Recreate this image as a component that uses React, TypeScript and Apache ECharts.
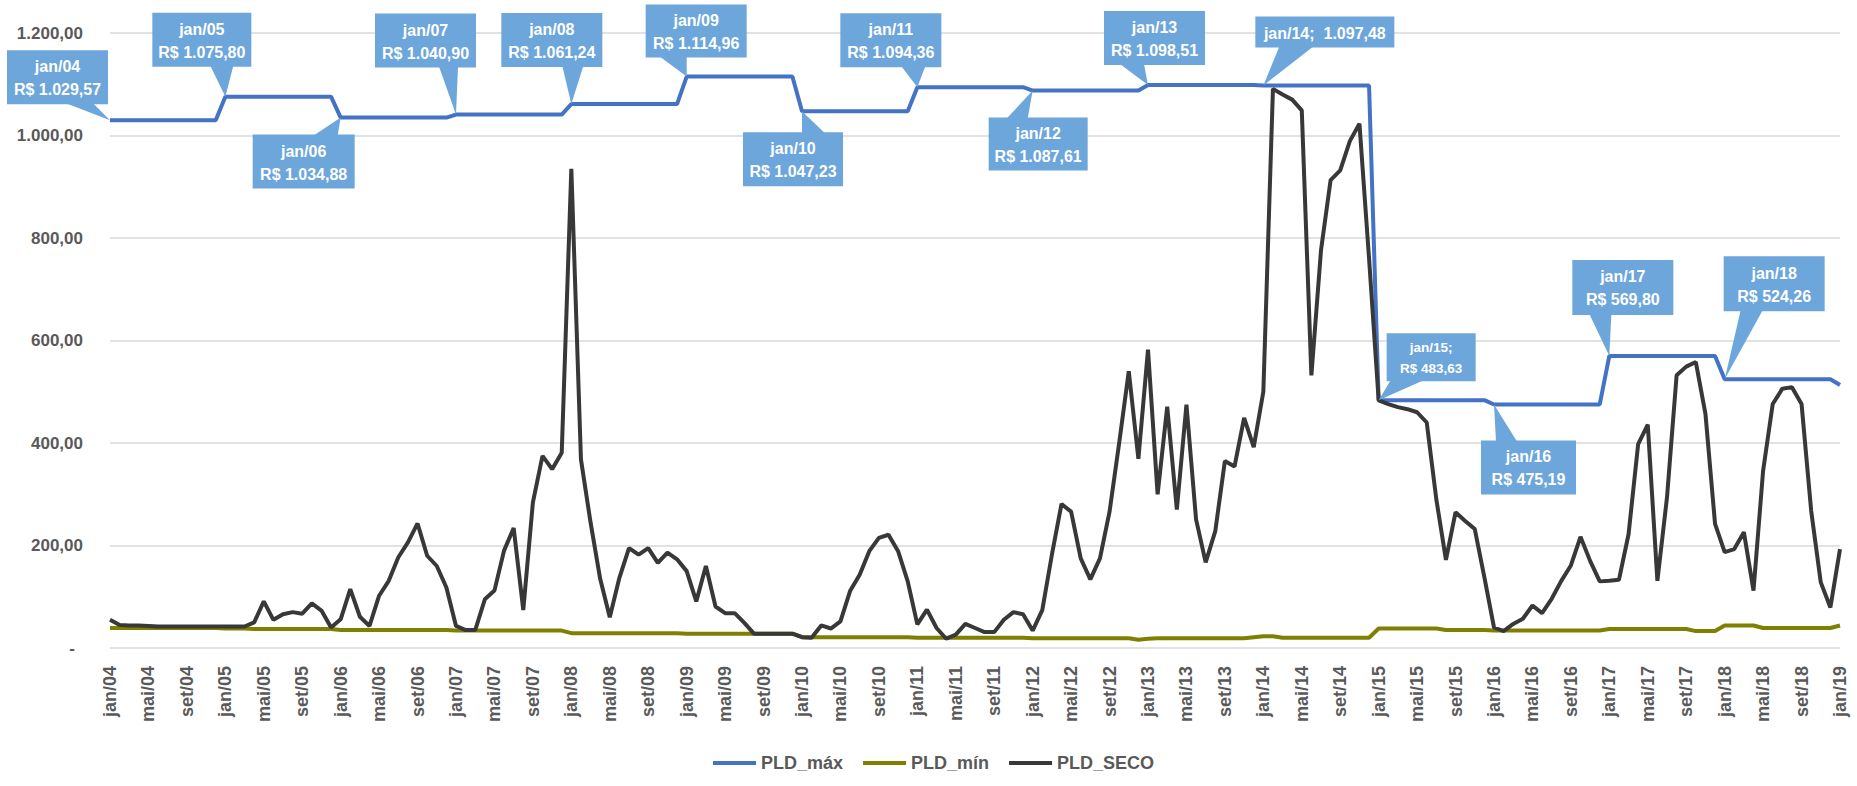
import React, { useEffect, useRef } from "react";
import * as echarts from "echarts";

// ---------- DATA ----------
const monthNames = ["jan", "fev", "mar", "abr", "mai", "jun", "jul", "ago", "set", "out", "nov", "dez"];
const firstYear = 2004;
const monthCount = 181; // jan/04 .. jan/19
const categories: string[] = Array.from({ length: monthCount }, (_, i) => {
  const y = (firstYear + Math.floor(i / 12)) % 100;
  return `${monthNames[i % 12]}/${String(y).padStart(2, "0")}`;
});

// PLD_máx: yearly ceiling (constant through each year), 2004..2018, plus jan/19
const pldMaxYearly = [1029.57, 1075.8, 1034.88, 1040.9, 1061.24, 1114.96, 1047.23, 1094.36, 1087.61, 1098.51, 1097.48, 483.63, 475.19, 569.8, 524.26];
const pldMaxJan19 = 513.0;
const pldMax: number[] = categories.map((_, i) => (i < 180 ? pldMaxYearly[Math.floor(i / 12)] : pldMaxJan19));

// PLD_mín (monthly)
const pldMin = [
  39, 39, 39, 39, 39, 39, 39, 39, 39, 39, 39, 39,
  38, 38, 38, 37, 37, 37, 37, 37, 37, 37, 37, 37,
  35, 35, 35, 35, 35, 35, 35, 35, 35, 35, 35, 35,
  34, 34, 34, 34, 34, 34, 34, 34, 34, 34, 34, 34,
  29, 29, 29, 29, 29, 29, 29, 29, 29, 29, 29, 29,
  28, 28, 28, 28, 28, 28, 28, 28, 28, 28, 28, 28,
  21, 21, 21, 21, 21, 21, 21, 21, 21, 21, 21, 21,
  20, 20, 20, 20, 20, 20, 20, 20, 20, 20, 20, 20,
  19, 19, 19, 19, 19, 19, 19, 19, 19, 19, 19, 16,
  18, 19, 19, 19, 19, 19, 19, 19, 19, 19, 19, 21,
  23, 23, 20, 20, 20, 20, 20, 20, 20, 20, 20, 20,
  38, 38, 38, 38, 38, 38, 38, 35, 35, 35, 35, 35,
  34, 34, 34, 34, 34, 34, 34, 34, 34, 34, 34, 34,
  37, 37, 37, 37, 37, 37, 37, 37, 37, 33, 33, 33,
  44, 44, 44, 44, 39, 39, 39, 39, 39, 39, 39, 39,
  44,
];

// PLD_SECO (monthly)
const pldSeco = [
  55, 45, 44, 44, 43, 42, 42, 42, 42, 42, 42, 42,
  42, 42, 42, 50, 91, 55, 66, 70, 67, 87, 73, 40,
  56, 115, 61, 43, 102, 131, 177, 206, 243, 180, 160, 118,
  43, 35, 35, 95, 112, 190, 234, 74, 284, 375, 349, 381,
  935, 368, 245, 135, 60, 137, 195, 182, 195, 166, 186, 173,
  150, 91, 160, 81, 68, 68, 49, 28, 28, 28, 28, 28,
  21, 20, 44, 38, 52, 111, 143, 189, 215, 221, 189, 130,
  46, 75, 39, 18, 26, 47, 39, 31, 31, 55, 70, 66,
  34, 74, 182, 281, 266, 175, 134, 175, 266, 400, 540, 369,
  582, 300, 471, 270, 475, 251, 167, 228, 365, 354, 449, 392,
  500, 1091, 1080, 1070, 1049, 532, 776, 913, 932, 989, 1023, 760,
  483, 476, 470, 466, 460, 440, 290, 172, 265, 248, 232, 138,
  40, 33, 47, 57, 83, 68, 96, 131, 161, 217, 170, 130,
  131, 133, 222, 398, 436, 131, 294, 532, 549, 558, 457, 242,
  187, 193, 226, 112, 346, 476, 506, 509, 476, 268, 128, 79,
  193,
];

const seriesNames = ["PLD_máx", "PLD_mín", "PLD_SECO"];
const yTicks = { min: 0, max: 1200, interval: 200 };

// Callout labels (text) attached to PLD_máx points
const calloutIdx = [0, 12, 24, 36, 48, 60, 72, 84, 96, 108, 120, 132, 144, 156, 168];
const calloutText = [
  ["jan/04", "R$ 1.029,57"],
  ["jan/05", "R$ 1.075,80"],
  ["jan/06", "R$ 1.034,88"],
  ["jan/07", "R$ 1.040,90"],
  ["jan/08", "R$ 1.061,24"],
  ["jan/09", "R$ 1.114,96"],
  ["jan/10", "R$ 1.047,23"],
  ["jan/11", "R$ 1.094,36"],
  ["jan/12", "R$ 1.087,61"],
  ["jan/13", "R$ 1.098,51"],
  ["jan/14;  1.097,48"],
  ["jan/15;", "R$ 483,63"],
  ["jan/16", "R$ 475,19"],
  ["jan/17", "R$ 569,80"],
  ["jan/18", "R$ 524,26"],
];

// ---------- LAYOUT / STYLE (pixel offsets of callout boxes relative to their point) ----------
type Box = { left: number; top: number; w: number; h: number; b1: number; b2: number; baseTop: boolean; fs?: number };
const boxes: Box[] = [
  { left: -103, top: -70, w: 101, h: 54, b1: -44, b2: -17, baseTop: false },
  { left: -73, top: -84, w: 99, h: 54, b1: -15, b2: 8, baseTop: false },
  { left: -88, top: 17, w: 102, h: 54, b1: -27, b2: -3, baseTop: true },
  { left: -81, top: -101, w: 101, h: 54, b1: -17, b2: 2, baseTop: false },
  { left: -70, top: -91, w: 101, h: 54, b1: -9, b2: 12, baseTop: false },
  { left: -41, top: -72, w: 101, h: 53, b1: -27, b2: 0, baseTop: false },
  { left: -59, top: 21, w: 100, h: 54, b1: 0, b2: 23, baseTop: true },
  { left: -77, top: -74, w: 101, h: 54, b1: -16, b2: 8, baseTop: false },
  { left: -44, top: 27, w: 99, h: 53, b1: -26, b2: -5, baseTop: true },
  { left: -44, top: -74, w: 101, h: 54, b1: -28, b2: -4, baseTop: false },
  { left: -8, top: -69, w: 139, h: 31, b1: 16, b2: 50, baseTop: false },
  { left: 8, top: -67, w: 89, h: 48, b1: 12, b2: 45, baseTop: false, fs: 13.5 },
  { left: -13, top: 36, w: 95, h: 54, b1: 2, b2: 23, baseTop: true },
  { left: -37, top: -96, w: 101, h: 55, b1: -20, b2: 2, baseTop: false },
  { left: -1, top: -123, w: 101, h: 55, b1: 16, b2: 38, baseTop: false },
];

const FONT = "'Liberation Sans', Arial, sans-serif";
const TEXT_GRAY = "#595959";
const CALLOUT_BLUE = "#6CA6DB";

function fmtBR(v: number): string {
  const s = v.toFixed(2);
  const [intPart, dec] = s.split(".");
  return intPart.replace(/\B(?=(\d{3})+(?!\d))/g, ".") + "," + dec;
}

export default function App() {
  const ref = useRef<HTMLDivElement>(null);

  useEffect(() => {
    document.body.style.margin = "0";
    if (!ref.current) return;
    const chart = echarts.init(ref.current, undefined, { renderer: "svg" });

    const option: any = {
      animation: false,
      backgroundColor: "#ffffff",
      textStyle: { fontFamily: FONT },
      grid: { left: 110, right: 17, top: 33, bottom: 138, containLabel: false },
      legend: {
        data: seriesNames,
        left: 708,
        top: 749,
        icon: "rect",
        itemWidth: 43,
        itemHeight: 4,
        itemGap: 20,
        textStyle: { fontSize: 18, fontWeight: "bold", color: TEXT_GRAY, fontFamily: FONT },
      },
      xAxis: {
        type: "category",
        data: categories,
        boundaryGap: false,
        axisLine: { show: false },
        axisTick: { show: false },
        splitLine: { show: false },
        axisLabel: {
          interval: 3,
          rotate: 90,
          margin: 18,
          fontSize: 18,
          fontWeight: "bold",
          color: TEXT_GRAY,
          fontFamily: FONT,
        },
      },
      yAxis: {
        type: "value",
        min: yTicks.min,
        max: yTicks.max,
        interval: yTicks.interval,
        axisLine: { show: false },
        axisTick: { show: false },
        splitLine: { lineStyle: { color: "#D9D9D9", width: 1.5 } },
        axisLabel: {
          margin: 27,
          fontSize: 17,
          fontWeight: "bold",
          color: TEXT_GRAY,
          fontFamily: FONT,
          formatter: (v: number) => (v === 0 ? "{d|-}" : fmtBR(v)),
          rich: { d: { padding: [0, 8, 0, 0], fontSize: 17, fontWeight: "bold", color: TEXT_GRAY } },
        },
      },
      series: [
        {
          name: seriesNames[0],
          type: "line",
          data: pldMax,
          symbol: "none",
          color: "#4472C4",
          lineStyle: { width: 4, color: "#4472C4" },
          z: 3,
        },
        {
          name: seriesNames[1],
          type: "line",
          data: pldMin,
          symbol: "none",
          color: "#808000",
          lineStyle: { width: 4, color: "#808000" },
          z: 2,
        },
        {
          name: seriesNames[2],
          type: "line",
          data: pldSeco,
          symbol: "none",
          color: "#383838",
          lineStyle: { width: 4, color: "#383838" },
          z: 4,
        },
      ],
    };
    chart.setOption(option);

    const graphics: any[] = [];
    calloutIdx.forEach((idx, k) => {
      const b = boxes[k];
      const p = chart.convertToPixel({ seriesIndex: 0 }, [idx, pldMax[idx]]) as number[];
      if (!p) return;
      const [px, py] = p;
      const baseY = b.baseTop ? py + b.top + 1 : py + b.top + b.h - 1;
      graphics.push({
        type: "polygon",
        z: 100,
        shape: { points: [[px + b.b1, baseY], [px, py], [px + b.b2, baseY]] },
        style: { fill: CALLOUT_BLUE },
        silent: true,
      });
      graphics.push({
        type: "rect",
        z: 100,
        shape: { x: px + b.left, y: py + b.top, width: b.w, height: b.h },
        style: { fill: CALLOUT_BLUE },
        silent: true,
      });
      const fs = b.fs || 16;
      graphics.push({
        type: "text",
        z: 101,
        x: px + b.left + b.w / 2,
        y: py + b.top + b.h / 2 + 1,
        style: {
          text: calloutText[k].join("\n"),
          fill: "#ffffff",
          fontSize: fs,
          fontWeight: "bold",
          fontFamily: FONT,
          lineHeight: fs + 7,
          align: "center",
          verticalAlign: "middle",
          textAlign: "center",
          textVerticalAlign: "middle",
        },
        silent: true,
      });
    });
    chart.setOption({ graphic: { elements: graphics } });

    return () => {
      chart.dispose();
    };
  }, []);

  return <div ref={ref} style={{ width: 1857, height: 786 }} />;
}
